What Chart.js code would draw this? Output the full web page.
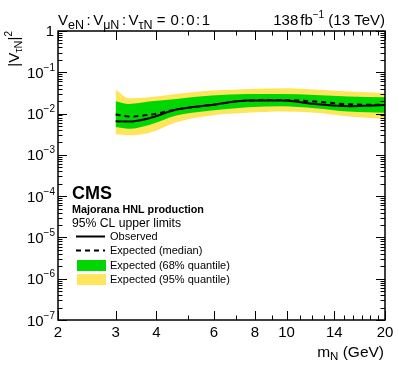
<!DOCTYPE html>
<html>
<head>
<meta charset="utf-8">
<script src="https://cdn.jsdelivr.net/npm/chart.js@4/dist/chart.umd.min.js"></script>
<style>
html,body{margin:0;padding:0;background:#fff;}
#wrap{width:399px;height:368px;position:relative;}
</style>
</head>
<body>
<div id="wrap"><canvas id="c" width="399" height="368"></canvas></div>
<script>
// ---- data ----
const masses      = [3, 3.3, 3.8, 4.6, 5.9, 7.6, 9.7, 12.2, 15.5, 20];
const observed    = [0.0065, 0.0064, 0.0077, 0.0125, 0.0162, 0.0207, 0.0207, 0.0171, 0.0151, 0.0162];
const expected    = [0.0095, 0.0085, 0.0093, 0.0125, 0.0162, 0.0207, 0.0214, 0.0195, 0.0168, 0.0162];
const band68Up    = [0.0199, 0.0171, 0.0195, 0.0226, 0.0273, 0.0298, 0.0298, 0.0282, 0.0258, 0.0248];
const band68Down  = [0.0047, 0.0043, 0.0053, 0.0090, 0.0119, 0.0143, 0.0151, 0.0135, 0.0112, 0.0104];
const band95Up    = [0.0381, 0.0235, 0.0248, 0.0298, 0.0360, 0.0394, 0.0409, 0.0381, 0.0341, 0.0315];
const band95Down  = [0.0031, 0.0030, 0.0034, 0.0062, 0.0090, 0.0104, 0.0112, 0.0104, 0.0085, 0.0074];

const xTickLabels = [2, 3, 4, 6, 8, 10, 14, 20];
const xMinorTicks = [5, 7, 9, 11, 12, 13, 15, 16, 17, 18, 19];
const yExponents  = [-7, -6, -5, -4, -3, -2, -1, 0];

const legendEntries = ['Observed', 'Expected (median)', 'Expected (68% quantile)', 'Expected (95% quantile)'];

const GREEN = '#00d600';
const YELLOW = '#ffe55e';
const FONT = '"Liberation Sans", Arial, Helvetica, sans-serif';

function pts(ys){ return masses.map((m,i)=>({x:m, y:ys[i]})); }

// segment: [text, size, dy, bold, gapAfter]
function segW(ctx, s){ ctx.font=(s[3]?'bold ':'')+s[1]+'px '+FONT; return ctx.measureText(s[0]).width + (s[4]||0); }
function richWidth(ctx, segs){ let w=0; for(const s of segs) w+=segW(ctx,s); return w; }
function drawRich(ctx, x, y, segs, align){
  const w = richWidth(ctx, segs);
  let cx = align==='right' ? x-w : (align==='center' ? x-w/2 : x);
  ctx.textAlign='left';
  ctx.textBaseline='alphabetic';
  for(const s of segs){
    ctx.font=(s[3]?'bold ':'')+s[1]+'px '+FONT;
    ctx.fillText(s[0], cx, y+s[2]);
    cx += segW(ctx, s);
  }
}

const decor = {
  id:'decor',
  afterDraw(chart){
    const ctx=chart.ctx, a=chart.chartArea, xs=chart.scales.x, ys=chart.scales.y;
    ctx.save();
    ctx.fillStyle='#000'; ctx.strokeStyle='#000';
    // ticks
    ctx.lineWidth=1;
    ctx.beginPath();
    const xt=(v,len)=>{const p=Math.round(xs.getPixelForValue(v))+0.5;
      ctx.moveTo(p,a.bottom); ctx.lineTo(p,a.bottom-len);
      ctx.moveTo(p,a.top); ctx.lineTo(p,a.top+len);};
    xTickLabels.forEach(v=>xt(v,9));
    xMinorTicks.forEach(v=>xt(v,4.5));
    const yt=(v,len)=>{const p=Math.round(ys.getPixelForValue(v))+0.5;
      ctx.moveTo(a.left,p); ctx.lineTo(a.left+len,p);
      ctx.moveTo(a.right,p); ctx.lineTo(a.right-len,p);};
    yExponents.forEach(e=>{
      yt(Math.pow(10,e),9);
      if(e<0){ for(let k=2;k<=9;k++) yt(k*Math.pow(10,e),4.5); }
    });
    ctx.stroke();
    // frame
    ctx.lineWidth=1.5;
    ctx.strokeRect(a.left, a.top, a.right-a.left, a.bottom-a.top);
    // x labels
    ctx.font='15px '+FONT; ctx.textAlign='center'; ctx.textBaseline='alphabetic';
    xTickLabels.forEach(v=>{ ctx.fillText(String(v), xs.getPixelForValue(v), a.bottom+17); });
    // y labels
    yExponents.forEach(e=>{
      const p=ys.getPixelForValue(Math.pow(10,e));
      if(e===0){ drawRich(ctx, a.left-4, p+5, [['1',15,0]], 'right'); }
      else { drawRich(ctx, a.left-3, p+5.5, [['10',15,0],['\u2212'+(-e),10,-7]], 'right'); }
    });
    // axis titles
    drawRich(ctx, a.right-1, 357, [['m',15.5,0],['N',11.5,3],[' (GeV)',15.5,0]], 'right');
    ctx.save();
    ctx.translate(19, a.top);
    ctx.rotate(-Math.PI/2);
    drawRich(ctx, 0, 0, [['|V',15,0],['\u03c4N',11,3],['|',15,0],['2',10,-7]], 'right');
    ctx.restore();
    // header
    drawRich(ctx, a.left, 25, [
      ['V',15,0],['eN',12.5,4,false,2.5],[':',15,0,false,2.5],
      ['V',15,0],['\u03bcN',12.5,4,false,2.5],[':',15,0,false,2.5],
      ['V',15,0],['\u03c4N',12.5,4],[' = ',15,0,false,1],
      ['0',15,0,false,1.5],[':',15,0,false,1.5],['0',15,0,false,1.5],[':',15,0,false,1.5],['1',15,0]], 'left');
    drawRich(ctx, a.right, 25, [['138',15,0,false,2],['fb',15,0],['\u22121',10,-7],[' (13 TeV)',15,0]], 'right');
    // CMS label block
    drawRich(ctx, 72, 199, [['CMS',18,0,true]], 'left');
    drawRich(ctx, 72, 212.5, [['Majorana HNL production',10.8,0,true]], 'left');
    drawRich(ctx, 72, 226.5, [['95% CL upper limits',12.2,0]], 'left');
    // legend
    const base=[240, 254.3, 268.5, 282.7];
    ctx.lineWidth=2;
    ctx.beginPath(); ctx.setLineDash([]); ctx.moveTo(76,236.5); ctx.lineTo(105,236.5); ctx.stroke();
    ctx.beginPath(); ctx.setLineDash([5,4]); ctx.moveTo(76,250.5); ctx.lineTo(105,250.5); ctx.stroke();
    ctx.setLineDash([]);
    ctx.fillStyle=GREEN; ctx.fillRect(77,260,29,11);
    ctx.fillStyle=YELLOW; ctx.fillRect(77,274,29,11);
    ctx.fillStyle='#000';
    legendEntries.forEach((t,i)=>drawRich(ctx, 110, base[i], [[t,11,0]], 'left'));
    ctx.restore();
  }
};

const lineBase = {pointRadius:0, cubicInterpolationMode:'monotone', borderWidth:0};

new Chart(document.getElementById('c'), {
  type:'line',
  data:{
    datasets:[
      Object.assign({label:'95 up', data:pts(band95Up), fill:'+1', backgroundColor:YELLOW, borderColor:YELLOW, order:4}, lineBase),
      Object.assign({label:'95 down', data:pts(band95Down), fill:false, borderColor:YELLOW, order:4}, lineBase),
      Object.assign({label:'68 up', data:pts(band68Up), fill:'+1', backgroundColor:GREEN, borderColor:GREEN, order:3}, lineBase),
      Object.assign({label:'68 down', data:pts(band68Down), fill:false, borderColor:GREEN, order:3}, lineBase),
      Object.assign({}, lineBase, {label:'Expected', data:pts(expected), fill:false, borderColor:'#000', borderWidth:2, borderDash:[5,4], order:2}),
      Object.assign({}, lineBase, {label:'Observed', data:pts(observed), fill:false, borderColor:'#000', borderWidth:2, order:1})
    ]
  },
  options:{
    responsive:false,
    animation:false,
    devicePixelRatio:1,
    layout:{padding:{left:58, right:14, top:31, bottom:48}},
    plugins:{legend:{display:false}, tooltip:{enabled:false}},
    scales:{
      x:{type:'logarithmic', min:2, max:20, display:false, bounds:'data'},
      y:{type:'logarithmic', min:1e-7, max:1, display:false, bounds:'data'}
    }
  },
  plugins:[decor]
});
</script>
</body>
</html>
